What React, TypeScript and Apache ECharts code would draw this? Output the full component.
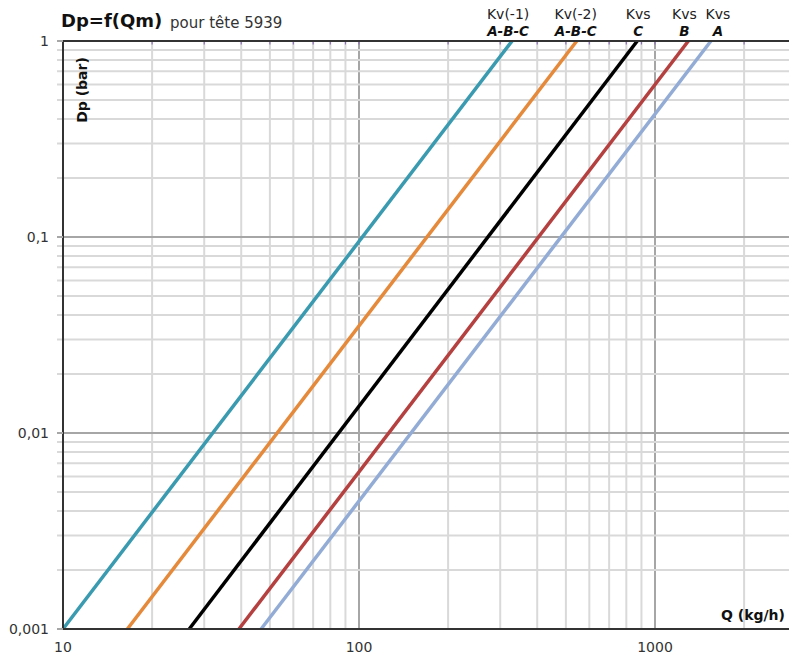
import React, { useEffect, useRef } from "react";
import * as echarts from "echarts";

// ---- data ----
const X_MIN = 10;
const X_MAX = 2836;
const Y_MIN = 0.001;
const Y_MAX = 1;

const xMinorGrid = [20, 30, 40, 50, 60, 70, 80, 90, 200, 300, 400, 500, 600, 700, 800, 900, 2000];
const xMajorGrid = [100, 1000];
const yMinorGrid = [
  0.002, 0.003, 0.004, 0.005, 0.006, 0.007, 0.008, 0.009,
  0.02, 0.03, 0.04, 0.05, 0.06, 0.07, 0.08, 0.09,
  0.2, 0.3, 0.4, 0.5, 0.6, 0.7, 0.8, 0.9,
];
const yMajorGrid = [0.01, 0.1];

// [Q (kg/h), Dp (bar)]
const kvMinus1 = [[10, 0.001], [329, 1]];
const kvMinus2 = [[16.5, 0.001], [544, 1]];
const kvsC = [[26.7, 0.001], [871, 1]];
const kvsB = [[39.3, 0.001], [1296, 1]];
const kvsA = [[46.7, 0.001], [1545, 1]];

const topNames = ["Kv(-1)", "Kv(-2)", "Kvs", "Kvs", "Kvs"];
const topSub = ["A-B-C", "A-B-C", "C", "B", "A"];

const seriesData = [kvMinus1, kvMinus2, kvsC, kvsB, kvsA];
const seriesColors = ["#3a9ab0", "#e5893b", "#000000", "#b4403f", "#93acd6"];
const labelOffsets = [[-4, 0], [-1, 0], [1, 0], [-4, 0], [7, 0]];

const FONT = "DejaVu Sans";

function gridSeries(values: number[], vertical: boolean, color: string, withTopTick: boolean) {
  return {
    type: "custom",
    silent: true,
    clip: false,
    z: 1,
    data: values.map((v) => (vertical ? [v, Y_MAX] : [X_MIN, v])),
    renderItem: (params: any, api: any) => {
      if (vertical) {
        const v = api.value(0);
        const top = api.coord([v, Y_MAX]);
        const bot = api.coord([v, Y_MIN]);
        const children: any[] = [
          {
            type: "line",
            shape: { x1: top[0], y1: top[1], x2: bot[0], y2: bot[1] },
            style: { stroke: color, lineWidth: 2 },
          },
        ];
        if (withTopTick) {
          children.push({
            type: "line",
            shape: { x1: top[0], y1: top[1], x2: top[0], y2: top[1] + 3.5 },
            style: { stroke: "#8a6fb5", lineWidth: 1.2 },
          });
        }
        return { type: "group", children };
      } else {
        const v = api.value(1);
        const l = api.coord([X_MIN, v]);
        const r = api.coord([X_MAX, v]);
        return {
          type: "line",
          shape: { x1: l[0] - 6, y1: l[1], x2: r[0], y2: r[1] },
          style: { stroke: color, lineWidth: 2 },
        };
      }
    },
  };
}

export default function App() {
  const ref = useRef<HTMLDivElement>(null);

  useEffect(() => {
    if (!ref.current) return;
    const chart = echarts.init(ref.current, undefined, { renderer: "svg" });

    const lineSeries = seriesData.map((pts, i) => ({
      type: "line",
      z: 3,
      symbol: "none",
      showSymbol: false,
      lineStyle: { color: seriesColors[i], width: 3.5 },
      itemStyle: { color: seriesColors[i] },
      data: pts,
      markPoint: {
        silent: true,
        symbol: "circle",
        symbolSize: 0,
        z: 6,
        data: [
          {
            coord: pts[pts.length - 1],
            label: {
              show: true,
              position: "top",
              distance: 2,
              offset: labelOffsets[i],
              formatter: `{k|${topNames[i]}}\n{s|${topSub[i]}}`,
              rich: {
                k: { fontFamily: FONT, fontSize: 14, color: "#222", lineHeight: 17, align: "center" },
                s: {
                  fontFamily: FONT,
                  fontSize: 13.5,
                  fontWeight: "bold",
                  fontStyle: "italic",
                  color: "#111",
                  lineHeight: 17,
                  align: "center",
                },
              },
            },
          },
        ],
      },
    }));

    chart.setOption({
      animation: false,
      backgroundColor: "#ffffff",
      textStyle: { fontFamily: FONT },
      title: [
        {
          text: "Dp=f(Qm)",
          left: 61,
          top: 11,
          padding: 0,
          textStyle: { fontFamily: FONT, fontSize: 18, fontWeight: "bold", color: "#111" },
        },
        {
          text: "pour tête 5939",
          left: 170,
          top: 15,
          padding: 0,
          textStyle: { fontFamily: FONT, fontSize: 15, fontWeight: "normal", color: "#333" },
        },
      ],
      grid: { left: 63, top: 41, bottom: 28, right: 0, containLabel: false },
      xAxis: [
        {
          type: "log",
          logBase: 10,
          min: X_MIN,
          max: X_MAX,
          z: 5,
          axisLine: { show: true, lineStyle: { color: "#333", width: 2 } },
          axisTick: { show: false },
          splitLine: { show: false },
          axisLabel: {
            show: true,
            margin: 11,
            fontSize: 14,
            color: "#333",
            fontFamily: FONT,
            showMaxLabel: false,
            formatter: (v: number) => String(Math.round(v)),
          },
        },
        {
          type: "log",
          logBase: 10,
          position: "top",
          min: X_MIN,
          max: X_MAX,
          z: 5,
          axisLine: { show: true, onZero: false, lineStyle: { color: "#333", width: 2 } },
          axisTick: { show: false },
          axisLabel: { show: false },
          splitLine: { show: false },
        },
      ],
      yAxis: {
        type: "log",
        logBase: 10,
        min: Y_MIN,
        max: Y_MAX,
        z: 5,
        axisLine: { show: true, lineStyle: { color: "#333", width: 2 } },
        axisTick: { show: true, length: 6, lineStyle: { color: "#a6a6a6", width: 2 } },
        splitLine: { show: false },
        axisLabel: {
          margin: 14,
          fontSize: 14,
          color: "#333",
          fontFamily: FONT,
          formatter: (v: number) => String(v).replace(".", ","),
        },
      },
      graphic: [
        {
          type: "text",
          z: 20,
          x: 82,
          y: 90,
          rotation: Math.PI / 2,
          style: {
            text: "Dp (bar)",
            fontFamily: FONT,
            fontSize: 14,
            fontWeight: "bold",
            fill: "#111",
            align: "center",
            verticalAlign: "middle",
          },
        },
        {
          type: "text",
          z: 20,
          x: 721,
          y: 615,
          style: {
            text: "Q (kg/h)",
            fontFamily: FONT,
            fontSize: 14,
            fontWeight: "bold",
            fill: "#111",
            align: "left",
            verticalAlign: "middle",
          },
        },
      ],
      series: [
        gridSeries(xMinorGrid, true, "#d9d9d9", true),
        gridSeries(xMajorGrid, true, "#a6a6a6", true),
        gridSeries(yMinorGrid, false, "#d9d9d9", false),
        gridSeries(yMajorGrid, false, "#a6a6a6", false),
        ...lineSeries,
      ],
    });

    return () => chart.dispose();
  }, []);

  return (
    <div
      ref={ref}
      style={{ position: "absolute", left: 0, top: 0, width: 789, height: 657, background: "#fff" }}
    />
  );
}
